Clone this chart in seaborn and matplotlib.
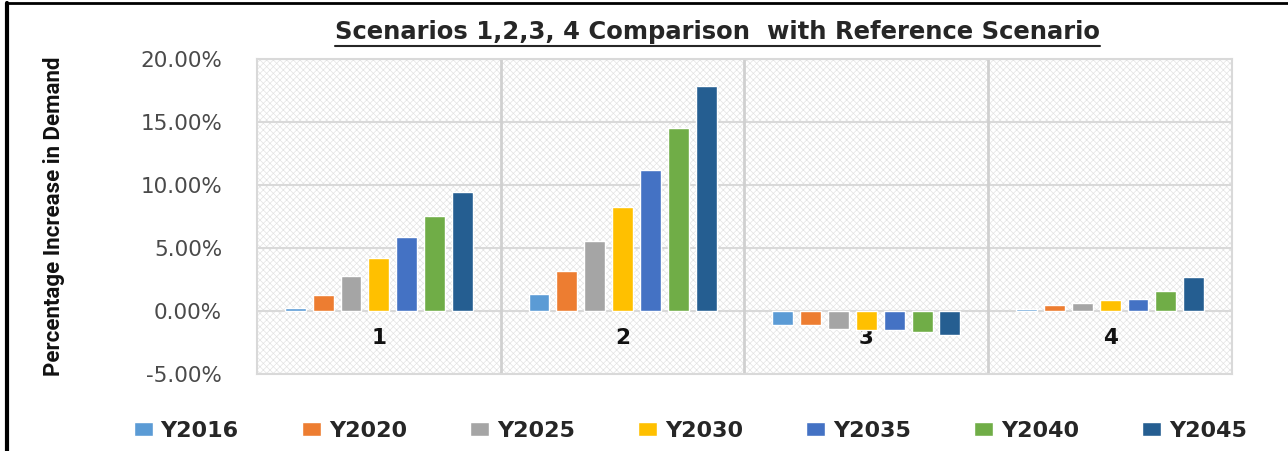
import matplotlib
matplotlib.use("Agg")
import matplotlib.pyplot as plt
import seaborn as sns
import pandas as pd
from matplotlib.patches import Rectangle
from matplotlib.lines import Line2D
from matplotlib.ticker import FuncFormatter

scenarios = ["1", "2", "3", "4"]
years = ["Y2016", "Y2020", "Y2025", "Y2030", "Y2035", "Y2040", "Y2045"]
y2016 = [0.25, 1.35, -1.15, 0.12]
y2020 = [1.30, 3.15, -1.15, 0.45]
y2025 = [2.80, 5.55, -1.40, 0.63]
y2030 = [4.20, 8.25, -1.50, 0.85]
y2035 = [5.85, 11.20, -1.50, 0.95]
y2040 = [7.55, 14.50, -1.70, 1.57]
y2045 = [9.45, 17.85, -1.95, 2.70]
colors = ["#5B9BD5", "#ED7D31", "#A5A5A5", "#FFC000", "#4472C4", "#70AD47", "#255E91"]
yticks = [-5, 0, 5, 10, 15, 20]

series = [y2016, y2020, y2025, y2030, y2035, y2040, y2045]
rows = []
for yr, vals in zip(years, series):
    for sc, v in zip(scenarios, vals):
        rows.append({"Scenario": sc, "Year": yr, "Value": v})
df = pd.DataFrame(rows)

sns.set_theme(style="white")
plt.rcParams["font.family"] = ["DejaVu Sans"]
plt.rcParams["hatch.linewidth"] = 0.5

fig = plt.figure(figsize=(12.88, 4.51), dpi=100)
ax = fig.add_axes([0.1995, 0.171, 0.757, 0.698])

# hatched background
bg = Rectangle((0, 0), 1, 1, transform=ax.transAxes, facecolor="white",
               edgecolor="#e3e3e3", linewidth=0, hatch="xxxxx", zorder=0)
ax.add_patch(bg)

sns.barplot(data=df, x="Scenario", y="Value", hue="Year", hue_order=years,
            order=scenarios, palette=colors, saturation=1, gap=0.25,
            width=0.8, ax=ax, zorder=3, legend=True)

ax.set_ylim(-5, 20)
ax.set_xlim(-0.5, 3.5)
ax.set_yticks(yticks)
ax.yaxis.set_major_formatter(FuncFormatter(lambda v, p: f"{v:.2f}%"))
for yv in yticks:
    ax.axhline(yv, color="#d9d9d9", lw=1.5, zorder=1)
for xv in [0.5, 1.5, 2.5]:
    ax.axvline(xv, color="#d0d0d0", lw=2, zorder=1)
for s in ax.spines.values():
    s.set_color("#d9d9d9")
    s.set_linewidth(1.5)

ax.tick_params(axis="y", length=0, pad=25, labelsize=15.5, labelcolor="#4a4a4a")
ax.tick_params(axis="x", length=0, pad=-33, labelsize=15.5, labelcolor="#111111")
for t in ax.get_xticklabels():
    t.set_fontweight("heavy")
ax.set_xlabel("")
ax.set_ylabel("Percentage Increase in Demand", fontsize=16, color="#111111",
              fontweight="bold", family=["Roboto", "DejaVu Sans"])
ax.yaxis.set_label_coords(-0.197, 0.5)

handles, labels = ax.get_legend_handles_labels()
ax.get_legend().remove()
leg = fig.legend(handles, labels, loc="center", bbox_to_anchor=(0.536, 0.045),
                 ncol=7, frameon=False, handlelength=0.85,
                 handleheight=0.55, columnspacing=2.85, handletextpad=0.35,
                 prop={"weight": "bold", "size": 16})
for t in leg.get_texts():
    t.set_color("#262626")

title = fig.text(0.557, 0.928, "Scenarios 1,2,3, 4 Comparison  with Reference Scenario",
                 ha="center", va="center", fontsize=17.5, fontweight="bold",
                 color="#262626")
fig.canvas.draw()
bb = title.get_window_extent(fig.canvas.get_renderer()).transformed(fig.transFigure.inverted())
fig.add_artist(Line2D([bb.x0, bb.x1], [bb.y0 - 0.004, bb.y0 - 0.004],
                      transform=fig.transFigure, color="#262626", lw=1.5))

# figure frame (top and left edges)
fig.add_artist(Line2D([0.0055, 0.0055], [0, 0.993], transform=fig.transFigure,
                      color="black", lw=3))
fig.add_artist(Line2D([0.0055, 1], [0.993, 0.993], transform=fig.transFigure,
                      color="black", lw=2))

fig.savefig("out.png", dpi=100)
